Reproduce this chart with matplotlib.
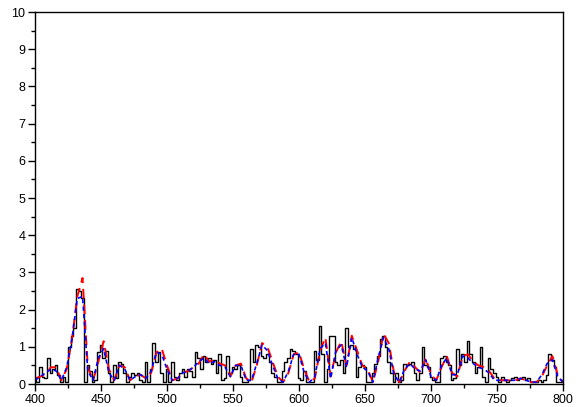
import numpy as np
import matplotlib
matplotlib.use('Agg')
import matplotlib.pyplot as plt
from matplotlib.ticker import MultipleLocator

plt.rcParams['font.family'] = ['Liberation Sans', 'DejaVu Sans']

# measured spectrum, 2 nm steps
x_meas = np.arange(400, 801, 2)
y_meas = [
    0.1, 0.05, 0.45, 0.2, 0.15, 0.7, 0.3, 0.4, 0.5, 0.25,
    0.05, 0.2, 0.05, 1.0, 1.3, 1.5, 2.55, 2.5, 2.3, 0.05,
    0.5, 0.35, 0.05, 0.1, 0.85, 1.05, 0.7, 0.9, 0.3, 0.05,
    0.5, 0.15, 0.6, 0.55, 0.3, 0.05, 0.2, 0.3, 0.25, 0.3,
    0.1, 0.05, 0.6, 0.05, 0.4, 1.1, 0.6, 0.85, 0.3, 0.05,
    0.4, 0.05, 0.6, 0.2, 0.1, 0.3, 0.4, 0.2, 0.4, 0.35,
    0.2, 0.85, 0.7, 0.4, 0.75, 0.6, 0.7, 0.55, 0.65, 0.3,
    0.8, 0.1, 0.15, 0.75, 0.3, 0.45, 0.4, 0.5, 0.2, 0.05,
    0.05, 0.1, 0.95, 0.6, 1.05, 1.0, 0.75, 0.7, 0.8, 0.6,
    0.3, 0.2, 0.05, 0.05, 0.35, 0.6, 0.7, 0.95, 0.9, 0.8,
    0.15, 0.1, 0.35, 0.05, 0.05, 0.05, 0.9, 0.65, 1.55, 0.8,
    0.05, 0.4, 1.3, 1.3, 0.6, 0.5, 0.65, 0.3, 1.5, 1.0,
    1.05, 0.95, 0.2, 0.45, 0.5, 0.45, 0.05, 0.05, 0.3, 0.55,
    0.75, 1.2, 1.3, 1.0, 0.6, 0.3, 0.05, 0.3, 0.05, 0.1,
    0.55, 0.5, 0.55, 0.6, 0.3, 0.1, 0.3, 1.0, 0.5, 0.45,
    0.2, 0.1, 0.05, 0.05, 0.7, 0.75, 0.6, 0.5, 0.1, 0.15,
    0.95, 0.5, 0.8, 0.6, 1.15, 0.8, 0.6, 0.3, 0.45, 1.0,
    0.2, 0.05, 0.7, 0.4, 0.3, 0.2, 0.05, 0.2, 0.1, 0.05,
    0.1, 0.15, 0.2, 0.1, 0.15, 0.2, 0.1, 0.15, 0.05, 0.05,
    0.05, 0.1, 0.05, 0.1, 0.25, 0.8, 0.65, 0.45, 0.05, 0.05,
    0.05,
]

# smoothed curves, 4 nm steps
x_fit = np.arange(400, 801, 4)
y_red = [
    0.15, 0.2, 0.25, 0.45, 0.45, 0.1, 0.4, 1.2, 2.35, 2.85,
    0.45, 0.1, 0.6, 1.15, 0.4, 0.1, 0.5, 0.45, 0.1, 0.2,
    0.25, 0.15, 0.3, 0.85, 0.95, 0.5, 0.1, 0.15, 0.3, 0.35,
    0.45, 0.55, 0.8, 0.6, 0.65, 0.55, 0.5, 0.2, 0.5, 0.55,
    0.15, 0.05, 0.5, 1.1, 1.0, 0.6, 0.2, 0.05, 0.3, 0.8,
    0.85, 0.4, 0.05, 0.15, 0.9, 1.25, 0.2, 0.85, 1.15, 0.5,
    1.3, 0.9, 0.5, 0.4, 0.05, 0.6, 1.35, 1.1, 0.3, 0.05,
    0.35, 0.6, 0.45, 0.3, 0.7, 0.25, 0.1, 0.45, 0.75, 0.3,
    0.2, 0.75, 0.8, 0.6, 0.5, 0.45, 0.35, 0.15, 0.1, 0.1,
    0.1, 0.1, 0.15, 0.1, 0.05, 0.05, 0.2, 0.5, 0.75, 0.25,
    0.05,
]
y_blue = [
    0.1, 0.2, 0.3, 0.4, 0.35, 0.1, 0.45, 1.2, 2.3, 2.35,
    0.35, 0.1, 0.7, 0.95, 0.3, 0.1, 0.5, 0.4, 0.1, 0.2,
    0.25, 0.15, 0.35, 0.85, 0.8, 0.4, 0.1, 0.15, 0.3, 0.35,
    0.45, 0.6, 0.7, 0.55, 0.6, 0.5, 0.45, 0.2, 0.5, 0.5,
    0.1, 0.1, 0.55, 1.05, 0.9, 0.5, 0.15, 0.05, 0.35, 0.8,
    0.8, 0.3, 0.05, 0.2, 0.95, 1.1, 0.15, 0.9, 1.05, 0.45,
    1.25, 0.8, 0.45, 0.35, 0.05, 0.7, 1.25, 0.95, 0.25, 0.05,
    0.4, 0.55, 0.4, 0.35, 0.65, 0.2, 0.1, 0.5, 0.7, 0.25,
    0.25, 0.75, 0.7, 0.55, 0.45, 0.4, 0.3, 0.1, 0.1, 0.1,
    0.1, 0.1, 0.15, 0.1, 0.05, 0.05, 0.25, 0.55, 0.65, 0.2,
    0.05,
]

fig = plt.figure(figsize=(5.78, 4.07), dpi=100)
ax = fig.add_axes([0.0606, 0.0565, 0.9134, 0.914])

ax.plot(x_meas, y_meas, color='black', lw=1.0, drawstyle='steps-mid')
ax.plot(x_fit, y_red, color='red', lw=1.4, ls=(0, (5, 3)))
ax.plot(x_fit, y_blue, color='blue', lw=1.2, ls=(0, (2.5, 2)))

ax.set_xlim(400, 800)
ax.set_ylim(0, 10)
ax.xaxis.set_major_locator(MultipleLocator(50))
ax.xaxis.set_minor_locator(MultipleLocator(25))
ax.yaxis.set_major_locator(MultipleLocator(1))
ax.yaxis.set_minor_locator(MultipleLocator(0.5))
ax.tick_params(which='both', direction='out', top=False, right=False,
               labelsize=9, width=1, pad=2)
ax.tick_params(which='major', length=5)
ax.tick_params(which='minor', length=3)
for s in ax.spines.values():
    s.set_linewidth(1)

fig.savefig('out.png', dpi=100)
